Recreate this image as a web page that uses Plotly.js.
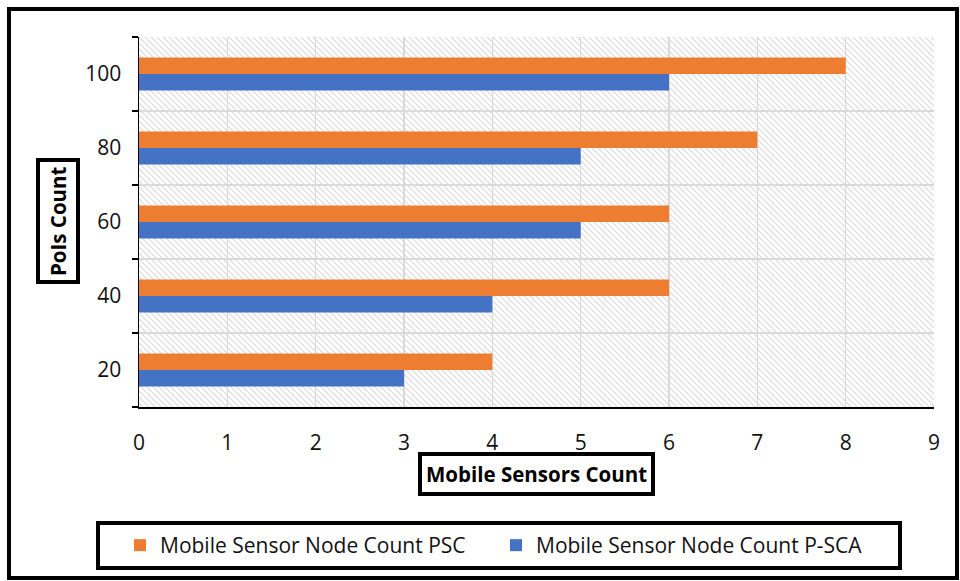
<!DOCTYPE html>
<html>
<head>
<meta charset="utf-8">
<script src="https://cdn.plot.ly/plotly-3.0.1.min.js"></script>
<style>html,body{margin:0;padding:0;background:#fff;}#chart{width:960px;height:581px;}</style>
</head>
<body>
<div id="chart"></div>
<script>
const categories = ['20', '40', '60', '80', '100'];
const pscValues = [4, 6, 6, 7, 8];
const pscaValues = [3, 4, 5, 5, 6];
const xTickValues = [0, 1, 2, 3, 4, 5, 6, 7, 8, 9];
const seriesNames = ['Mobile Sensor Node Count PSC', 'Mobile Sensor Node Count P-SCA'];
const axisTitles = {x: 'Mobile Sensors Count', y: 'PoIs Count'};

const W = 960, H = 581;
const L = 139, R = 934, T = 37, B = 407;
const px = p => (p - L) / (R - L);
const py = p => (B - p) / (B - T);

const FONT = 'Open Sans, sans-serif';
const TXT = '#111';

const hatchSvg = "<svg xmlns='http://www.w3.org/2000/svg' width='795' height='370'>" +
  "<defs><pattern id='h' width='6' height='6' patternUnits='userSpaceOnUse'>" +
  "<path d='M-1,-1 L7,7 M-1,5 L1,7 M5,-1 L7,1' stroke='#d8d8d8' stroke-width='1.1'/></pattern></defs>" +
  "<rect width='100%' height='100%' fill='white'/><rect width='100%' height='100%' fill='url(#h)'/></svg>";
const hatchUri = 'data:image/svg+xml;charset=utf-8,' + encodeURIComponent(hatchSvg);

const traces = [
  {type: 'bar', orientation: 'h', name: seriesNames[1], y: categories, x: pscaValues,
   marker: {color: '#4472C4'}, hoverinfo: 'x+y'},
  {type: 'bar', orientation: 'h', name: seriesNames[0], y: categories, x: pscValues,
   marker: {color: '#ED7D31'}, hoverinfo: 'x+y'}
];

const layout = {
  width: W, height: H,
  margin: {l: L, r: W - R, t: T, b: H - B, pad: 0},
  paper_bgcolor: '#fff', plot_bgcolor: 'rgba(0,0,0,0)',
  font: {family: FONT, size: 21, color: TXT},
  barmode: 'group', bargap: 0.554, bargroupgap: 0,
  showlegend: true,
  legend: {orientation: 'h', x: px(120), xanchor: 'left', y: py(545.5), yanchor: 'middle',
    traceorder: 'reversed', entrywidth: 331, entrywidthmode: 'pixels',
    font: {family: FONT, size: 21, color: TXT}, bgcolor: 'rgba(0,0,0,0)', borderwidth: 0},
  xaxis: {range: [0, 9], tickvals: xTickValues, ticks: '', showgrid: true,
    gridcolor: '#d9d9d9', gridwidth: 1.5, zeroline: false,
    showline: true, linecolor: '#000', linewidth: 1.5,
    ticklabelstandoff: 16, tickfont: {family: FONT, size: 21, color: TXT}, fixedrange: true},
  yaxis: {type: 'category', categoryorder: 'array', categoryarray: categories,
    tickson: 'boundaries', ticks: 'outside', ticklen: 6, tickwidth: 1.5, tickcolor: '#000',
    showgrid: true, gridcolor: '#d9d9d9', gridwidth: 1.5, zeroline: false,
    showline: true, linecolor: '#000', linewidth: 1.5,
    ticklabelstandoff: 12, tickfont: {family: FONT, size: 21, color: TXT}, fixedrange: true},
  images: [{source: hatchUri, xref: 'paper', yref: 'paper', x: 0, y: 1, sizex: 1, sizey: 1,
    xanchor: 'left', yanchor: 'top', sizing: 'stretch', layer: 'below'}],
  annotations: [
    {text: '<b>' + axisTitles.x + '</b>', xref: 'paper', yref: 'paper',
     x: px(536.5), y: py(474), xanchor: 'center', yanchor: 'middle', showarrow: false,
     font: {family: FONT, size: 20.5, color: '#000'}, bordercolor: '#000', borderwidth: 4,
     borderpad: 4, bgcolor: '#fff'},
    {text: '<b>' + axisTitles.y + '</b>', xref: 'paper', yref: 'paper', textangle: -90,
     x: px(57.5), y: py(221.5), xanchor: 'center', yanchor: 'middle', showarrow: false,
     font: {family: FONT, size: 20.5, color: '#000'}, bordercolor: '#000', borderwidth: 4,
     borderpad: 4, bgcolor: '#fff'}
  ],
  shapes: [
    {type: 'rect', xref: 'paper', yref: 'paper', x0: px(98), x1: px(900), y0: py(523), y1: py(568),
     line: {color: '#000', width: 4}, fillcolor: 'rgba(0,0,0,0)', layer: 'above'},
    {type: 'rect', xref: 'paper', yref: 'paper', x0: px(9), x1: px(957), y0: py(9), y1: py(578),
     line: {color: '#000', width: 4}, fillcolor: 'rgba(0,0,0,0)', layer: 'above'}
  ]
};

Plotly.newPlot('chart', traces, layout, {displayModeBar: false, staticPlot: true});
</script>
</body>
</html>
